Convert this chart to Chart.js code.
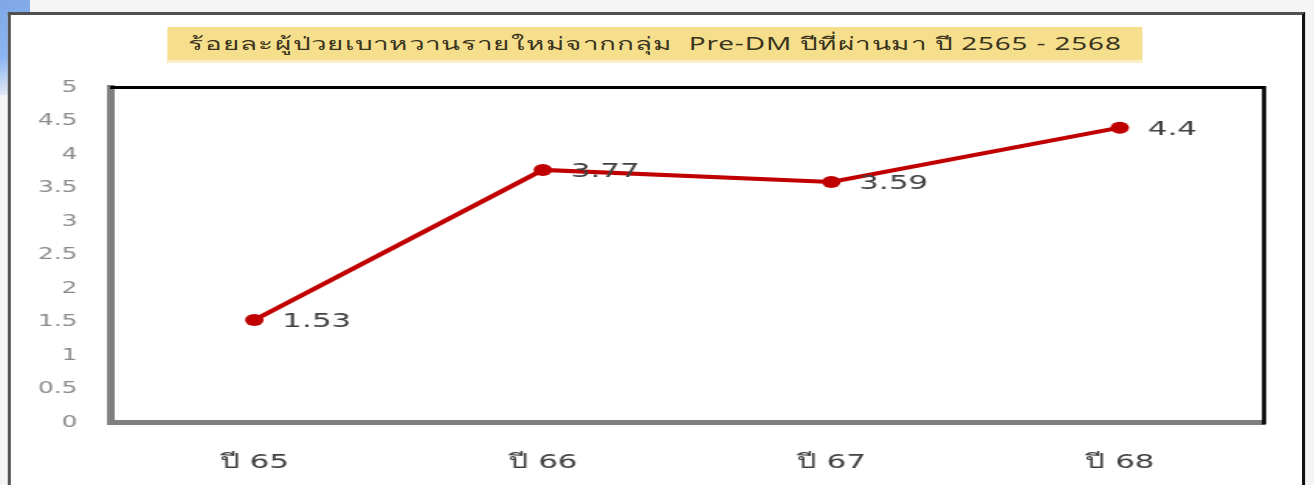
<!DOCTYPE html>
<html>
<head>
<meta charset="utf-8">
<script src="https://cdn.jsdelivr.net/npm/chart.js@4.4.1/dist/chart.umd.min.js"></script>
<style>
  html, body { margin: 0; padding: 0; }
  body {
    width: 1314px;
    height: 485px;
    overflow: hidden;
    background: #f5f5f5;
    position: relative;
    font-family: "Noto Sans", "DejaVu Sans", sans-serif;
  }
  #corner {
    position: absolute;
    left: 0; top: 0;
    width: 30px; height: 95px;
    background: linear-gradient(160deg, #7fa7e6 0%, #8cb4f2 55%, rgba(245,245,245,0) 100%);
  }
  /* the reference is stretched sideways, so draw narrow and stretch */
  #stretch {
    position: absolute;
    left: 0; top: 0;
    width: 848px;
    height: 485px;
    transform: scaleX(1.55);
    transform-origin: 0 0;
  }
  #frame {
    position: absolute;
    left: 5.2px; top: 12px;
    width: 832.8px; height: 480px;
    background: #fff;
    border-left: 2.6px solid #555;
    border-top: 3px solid #505050;
    border-right: 2.6px solid #111;
  }
  #title {
    position: absolute;
    left: 108.4px; top: 27px;
    width: 628.4px; height: 33px;
    background: #f5de8c;
    border-bottom: 3px solid #fbefc8;
    color: #3b3520;
    font-size: 18px;
    letter-spacing: 0.55px;
    line-height: 33px;
    text-align: center;
    white-space: nowrap;
  }
  #box { position: absolute; left: 0; top: 0; width: 848px; height: 485px; }
</style>
</head>
<body>
<div id="corner"></div>
<div id="stretch">
  <div id="frame"></div>
  <div id="title">ร้อยละผู้ป่วยเบาหวานรายใหม่จากกลุ่ม &nbsp;Pre-DM ปีที่ผ่านมา ปี 2565 - 2568</div>
  <div id="box"><canvas id="myLineChart"></canvas></div>
</div>
<script>
const years = ["ปี 65", "ปี 66", "ปี 67", "ปี 68"];
const newCasePercent = [1.53, 3.77, 3.59, 4.4];
const yTicks = [0, 0.5, 1, 1.5, 2, 2.5, 3, 3.5, 4, 4.5, 5];

// top and right edges of the plot are black, left and bottom are grey
const plotFrame = {
  id: "plotFrame",
  afterDraw(chart) {
    const { ctx, chartArea } = chart;
    ctx.save();
    ctx.strokeStyle = "#000";
    ctx.lineWidth = 3;
    ctx.beginPath();
    ctx.moveTo(chartArea.left, chartArea.top);
    ctx.lineTo(chartArea.right, chartArea.top);
    ctx.stroke();
    ctx.lineWidth = 2.6;
    ctx.beginPath();
    ctx.moveTo(chartArea.right, chartArea.top - 1.5);
    ctx.lineTo(chartArea.right, chartArea.bottom + 2);
    ctx.stroke();
    ctx.restore();
  },
};

// value next to each point
const pointLabels = {
  id: "pointLabels",
  afterDatasetsDraw(chart) {
    const { ctx } = chart;
    const meta = chart.getDatasetMeta(0);
    ctx.save();
    ctx.font = "20px 'DejaVu Sans', sans-serif";
    ctx.fillStyle = "#404040";
    ctx.textAlign = "left";
    ctx.textBaseline = "middle";
    meta.data.forEach((pt, i) => {
      ctx.fillText(String(newCasePercent[i]), pt.x + 18, pt.y + 2);
    });
    ctx.restore();
  },
};

const canvas = document.getElementById("myLineChart");
new Chart(canvas.getContext("2d"), {
  type: "line",
  data: {
    labels: years,
    datasets: [
      {
        label: "ร้อยละ",
        data: newCasePercent,
        borderColor: "#c00000",
        backgroundColor: "#c00000",
        borderWidth: 4,
        pointRadius: 6,
        pointHoverRadius: 6,
        pointBorderWidth: 0,
        tension: 0,
        fill: false,
      },
    ],
  },
  options: {
    responsive: true,
    maintainAspectRatio: false,
    animation: false,
    layout: { padding: { left: 0, right: 32.5, top: 87.5, bottom: 0 } },
    plugins: {
      legend: { display: false },
      tooltip: { enabled: false },
    },
    scales: {
      x: {
        offset: true,
        grid: { display: false, drawTicks: false },
        border: { display: true, color: "#808080", width: 5 },
        ticks: {
          padding: 28,
          color: "#404040",
          font: { size: 20, family: "'DejaVu Sans', sans-serif" },
        },
        afterFit(scale) { scale.height = 62.5; },
      },
      y: {
        min: 0,
        max: 5,
        afterBuildTicks(scale) { scale.ticks = yTicks.map((v) => ({ value: v })); },
        grid: { display: false, drawTicks: false },
        border: { display: true, color: "#808080", width: 5 },
        ticks: {
          padding: 21,
          color: "#8a8a8a",
          font: { size: 16, family: "'DejaVu Sans', sans-serif" },
          callback: (v) => String(v),
        },
        afterFit(scale) { scale.width = 71; },
      },
    },
  },
  plugins: [plotFrame, pointLabels],
});
</script>
</body>
</html>
